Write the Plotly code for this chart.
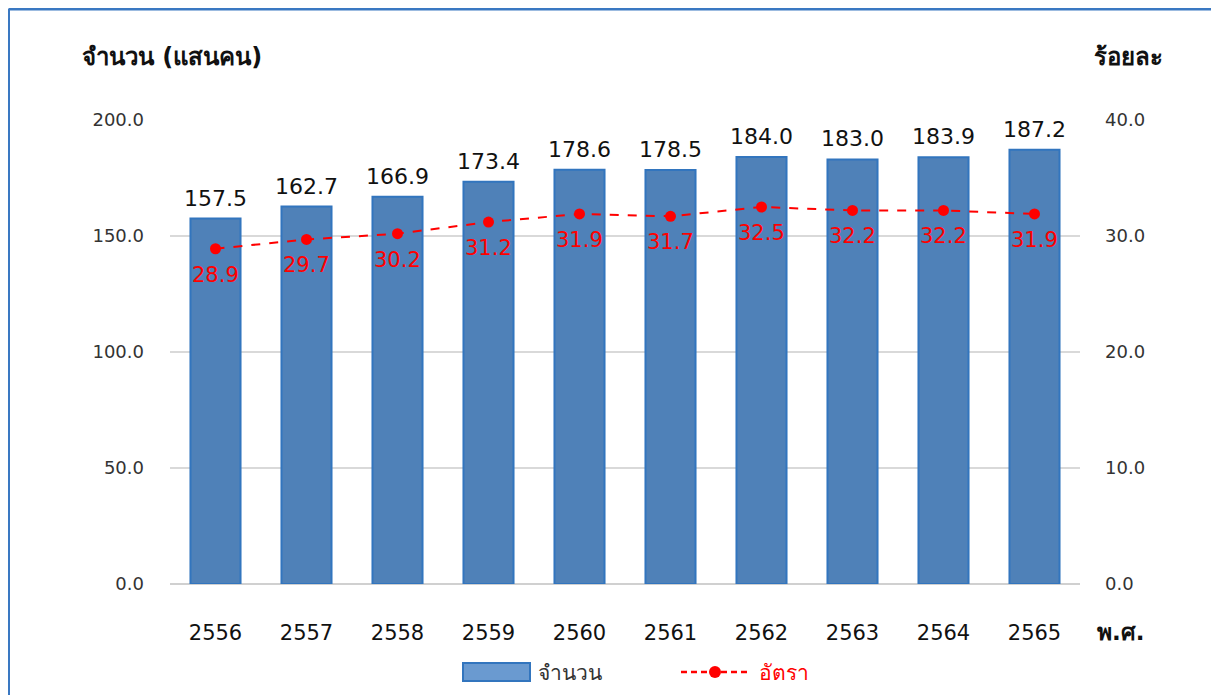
import plotly.graph_objects as go

years = ["2556", "2557", "2558", "2559", "2560", "2561", "2562", "2563", "2564", "2565"]
counts = [157.5, 162.7, 166.9, 173.4, 178.6, 178.5, 184.0, 183.0, 183.9, 187.2]
rates = [28.9, 29.7, 30.2, 31.2, 31.9, 31.7, 32.5, 32.2, 32.2, 31.9]

FONT = "Tahoma, DejaVu Sans, Noto Sans, sans-serif"
L, R, T, B = 162, 147, 112, 119
W, H = 1219, 695
PW, PH = W - L - R, H - T - B


def px(fx):
    return (fx - L) / PW


def py(fy):
    return (H - B - fy) / PH


fig = go.Figure()
fig.add_trace(go.Bar(
    x=years, y=counts, name="จำนวน",
    marker=dict(color="#4F81B8", line=dict(color="#3275BE", width=2)),
    width=0.55, showlegend=False,
))
fig.add_trace(go.Scatter(
    x=years, y=rates, name="อัตรา", yaxis="y2",
    mode="lines+markers",
    line=dict(color="#FF0000", width=2, dash="dash"),
    marker=dict(color="#FF0000", size=11),
    cliponaxis=False, showlegend=False,
))

# data labels (x given as category index)
for i, v in enumerate(counts):
    fig.add_annotation(x=i, y=v, xref="x", yref="y", text=f"{v:.1f}",
                       showarrow=False, yanchor="bottom", yshift=6,
                       font=dict(size=22, color="#111111", family=FONT))
for i, v in enumerate(rates):
    fig.add_annotation(x=i, y=v, xref="x", yref="y2", text=f"{v:.1f}",
                       showarrow=False, yanchor="middle", yshift=-26,
                       font=dict(size=21, color="#FF0000", family=FONT))

fig.update_layout(
    width=W, height=H,
    margin=dict(l=L, r=R, t=T, b=B),
    paper_bgcolor="white", plot_bgcolor="white",
    font=dict(family=FONT, color="#333333"),
    showlegend=False,
    xaxis=dict(type="category", range=[-0.5, len(years) - 0.5],
               tickfont=dict(size=21, color="#111111"),
               showline=False, ticks="", ticklabelstandoff=34),
    yaxis=dict(range=[0, 200], tickvals=[0, 50, 100, 150, 200], tickformat=".1f",
               showgrid=True, gridcolor="#D9D9D9", gridwidth=1.5,
               zeroline=True, zerolinecolor="#D0D0D0", zerolinewidth=2,
               tickfont=dict(size=18, color="#333333"), ticklabelstandoff=25),
    yaxis2=dict(range=[0, 40], tickvals=[0, 10, 20, 30, 40], tickformat=".1f",
                overlaying="y", side="right", showgrid=False, zeroline=False,
                tickfont=dict(size=18, color="#333333"), ticklabelstandoff=24),
    bargap=0.45,
)

# axis titles
fig.add_annotation(text="<b>จำนวน (แสนคน)</b>", xref="paper", yref="paper",
                   x=px(72), y=py(49), xanchor="left", yanchor="middle",
                   showarrow=False, font=dict(size=24, color="#111111"))
fig.add_annotation(text="<b>ร้อยละ</b>", xref="paper", yref="paper",
                   x=px(1157), y=py(49), xanchor="right", yanchor="middle",
                   showarrow=False, font=dict(size=24, color="#111111"))
fig.add_annotation(text="<b>พ.ศ.</b>", xref="paper", yref="paper",
                   x=px(1112), y=py(624), xanchor="center", yanchor="middle",
                   showarrow=False, font=dict(size=23, color="#111111"))

# manual legend
fig.add_shape(type="rect", xref="paper", yref="paper",
              x0=px(455), x1=px(522), y0=py(655), y1=py(673),
              fillcolor="#6A9AD0", line=dict(color="#3275BE", width=2))
fig.add_annotation(text="จำนวน", xref="paper", yref="paper",
                   x=px(528), y=py(665), xanchor="left", yanchor="middle",
                   showarrow=False, font=dict(size=21, color="#333333"))
fig.add_shape(type="line", xref="paper", yref="paper",
              x0=px(673), x1=px(742), y0=py(664), y1=py(664),
              line=dict(color="#FF0000", width=2.5, dash="6px,4px"))
fig.add_shape(type="circle", xref="paper", yref="paper",
              x0=px(701), x1=px(713), y0=py(658), y1=py(670),
              fillcolor="#FF0000", line=dict(color="#FF0000", width=0))
fig.add_annotation(text="อัตรา", xref="paper", yref="paper",
                   x=px(749), y=py(665), xanchor="left", yanchor="middle",
                   showarrow=False, font=dict(size=21, color="#FF0000"))

# outer frame (clipped at right and bottom as in the reference)
fig.add_shape(type="line", xref="paper", yref="paper",
              x0=px(0.5), x1=px(W + 20), y0=py(1.0), y1=py(1.0),
              line=dict(color="#3A78C2", width=3))
fig.add_shape(type="line", xref="paper", yref="paper",
              x0=px(0.5), x1=px(0.5), y0=py(H + 20), y1=py(1.0),
              line=dict(color="#3A78C2", width=3))

fig.write_html("out.html")
